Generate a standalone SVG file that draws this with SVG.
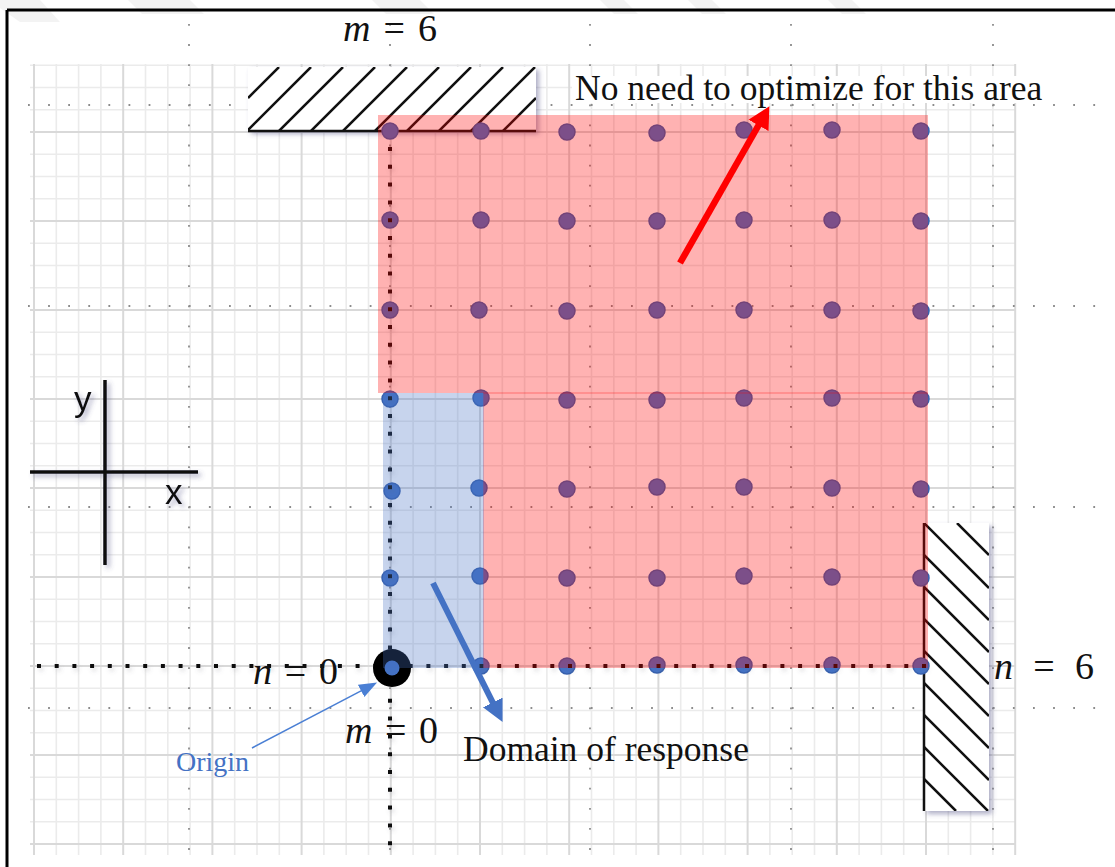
<svg xmlns="http://www.w3.org/2000/svg" width="1115" height="867" viewBox="0 0 1115 867">
<defs>
<style>
.minor{stroke:#ebebeb;stroke-width:1.6;fill:none}
.major{stroke:#d9d9d9;stroke-width:2;fill:none}
.gdot{stroke:#8c8c8c;stroke-width:1.8;stroke-dasharray:1.8 18.3;fill:none}
.bdot{stroke:#111;stroke-width:4;fill:none}
.hatch{stroke:#111;stroke-width:2.5;fill:none}
.dot{fill:#4472c4;stroke:#3760ad;stroke-width:1.5}
.math{font-family:"Liberation Serif",serif;font-size:38px;fill:#111}
.serif{font-family:"Liberation Serif",serif;font-size:35.5px;fill:#111}
.sans{font-family:"Liberation Sans",sans-serif;font-size:35px;fill:#111}
.wm{fill:#f3f3f3}
</style>
<filter id="sh" filterUnits="userSpaceOnUse" x="0" y="0" width="1115" height="867">
<feDropShadow dx="3" dy="3" stdDeviation="2.5" flood-color="#4a4a80" flood-opacity="0.45"/>
</filter>
<filter id="shs" filterUnits="userSpaceOnUse" x="0" y="0" width="1115" height="867">
<feDropShadow dx="2" dy="3" stdDeviation="2" flood-color="#606070" flood-opacity="0.25"/>
</filter>
<clipPath id="clipTop"><rect x="248" y="67" width="288" height="64"/></clipPath>
<clipPath id="clipRight"><rect x="924" y="523" width="65" height="288"/></clipPath>
<marker id="ahR" markerUnits="userSpaceOnUse" markerWidth="24" markerHeight="24" viewBox="0 0 24 24" refX="1" refY="12" orient="auto"><path d="M0,0.5 L22,12 L0,23.5z" fill="#ff0000"/></marker>
<marker id="ahB" markerUnits="userSpaceOnUse" markerWidth="24" markerHeight="24" viewBox="0 0 24 24" refX="1" refY="12" orient="auto"><path d="M0,1 L22,12 L0,23z" fill="#4472c4"/></marker>
<marker id="ahT" markerUnits="userSpaceOnUse" markerWidth="20" markerHeight="16" viewBox="0 0 20 16" refX="1" refY="8" orient="auto"><path d="M0,1 L18,8 L0,15z" fill="#4a7fd4"/></marker>
</defs>

<rect width="1115" height="867" fill="#ffffff"/>

<g id="watermark">
<polygon class="wm" points="0,0 40,0 60,22 20,22 0,8"/>
<polygon class="wm" points="128,0 190,0 204,14 142,14"/>
<polygon class="wm" points="372,0 420,0 434,14 386,14"/>
<polygon class="wm" points="600,0 624,0 638,14 614,14"/>
<polygon class="wm" points="688,0 712,0 726,14 702,14"/>
<polygon class="wm" points="828,0 852,0 866,14 842,14"/>
</g>

<g id="frame" stroke="#000" stroke-width="3" fill="none">
<path d="M7 10H1115M7 10V867"/>
</g>

<g id="grid">
<path class="minor" d="M56.3 64V855M78.6 64V855M100.9 64V855M145.5 64V855M167.8 64V855M190.1 64V855M234.7 64V855M257 64V855M279.3 64V855M323.9 64V855M346.2 64V855M368.5 64V855M413.1 64V855M435.4 64V855M457.7 64V855M502.3 64V855M524.6 64V855M546.9 64V855M591.5 64V855M613.8 64V855M636.1 64V855M680.7 64V855M703 64V855M725.3 64V855M769.9 64V855M792.2 64V855M814.5 64V855M859.1 64V855M881.4 64V855M903.7 64V855M948.3 64V855M970.6 64V855M992.9 64V855"/>
<path class="minor" d="M30 65.25H1016M30 87.5H1016M30 109.75H1016M30 154.25H1016M30 176.5H1016M30 198.75H1016M30 243.25H1016M30 265.5H1016M30 287.75H1016M30 332.25H1016M30 354.5H1016M30 376.75H1016M30 421.25H1016M30 443.5H1016M30 465.75H1016M30 510.25H1016M30 532.5H1016M30 554.75H1016M30 599.25H1016M30 621.5H1016M30 643.75H1016M30 688.25H1016M30 710.5H1016M30 732.75H1016M30 777.25H1016M30 799.5H1016M30 821.75H1016"/>
<path class="major" d="M34 64V855M123.2 64V855M212.4 64V855M301.6 64V855M390.8 64V855M480 64V855M569.2 64V855M658.4 64V855M747.6 64V855M836.8 64V855M926 64V855M1015.2 64V855"/>
<path class="major" d="M30 132H1016M30 221H1016M30 310H1016M30 399H1016M30 488H1016M30 577H1016M30 666H1016M30 755H1016M30 844H1016"/>
<path class="gdot" d="M189 24V853M390 24V853M590 24V853M791 24V853M993 24V853"/>
<path class="gdot" d="M28 105H1096M28 306H1096M28 507H1096M28 708H1096"/>
</g>

<g id="hatch-top">
<rect x="248" y="67" width="288" height="64" fill="#ffffff" filter="url(#sh)"/>
<g clip-path="url(#clipTop)">
<path class="hatch" d="M248 98L279 67M247 131L311 67M279 131L343 67M311 131L375 67M343 131L407 67M375 131L439 67M407 131L471 67M439 131L503 67M471 131L535 67M503 131L536 98"/>
</g>
<path d="M248 131H536" stroke="#111" stroke-width="2.5"/>
</g>

<g id="hatch-right">
<rect x="924" y="523" width="65" height="288" fill="#ffffff" filter="url(#sh)"/>
<g clip-path="url(#clipRight)">
<path class="hatch" d="M957 523L989 555M924 523L989 588M924 555L989 620M924 587L989 652M924 619L989 684M924 651L989 716M924 683L989 748M924 715L989 780M924 747L988 811M924 779L956 811"/>
</g>
<path d="M924 523V811" stroke="#111" stroke-width="2.5"/>
</g>

<g id="axes-icon" filter="url(#sh)">
<path d="M30 472H198M105 380V565" stroke="#111" stroke-width="3.5" fill="none"/>
<text class="sans" x="74" y="411">y</text>
<text class="sans" x="165" y="504">x</text>
</g>

<g id="points">
<circle class="dot" cx="390" cy="131" r="8"/><circle class="dot" cx="481" cy="131" r="8"/><circle class="dot" cx="567" cy="132" r="8"/><circle class="dot" cx="657" cy="133" r="8"/><circle class="dot" cx="744" cy="130" r="8"/><circle class="dot" cx="832" cy="130" r="8"/><circle class="dot" cx="921" cy="131" r="8"/>
<circle class="dot" cx="390" cy="220" r="8"/><circle class="dot" cx="481" cy="220" r="8"/><circle class="dot" cx="567" cy="221" r="8"/><circle class="dot" cx="657" cy="221" r="8"/><circle class="dot" cx="744" cy="220" r="8"/><circle class="dot" cx="832" cy="220" r="8"/><circle class="dot" cx="921" cy="221" r="8"/>
<circle class="dot" cx="390" cy="310" r="8"/><circle class="dot" cx="479" cy="310" r="8"/><circle class="dot" cx="567" cy="311" r="8"/><circle class="dot" cx="657" cy="310" r="8"/><circle class="dot" cx="744" cy="310" r="8"/><circle class="dot" cx="832" cy="310" r="8"/><circle class="dot" cx="921" cy="311" r="8"/>
<circle class="dot" cx="390" cy="399" r="8"/><circle class="dot" cx="481" cy="398" r="8"/><circle class="dot" cx="567" cy="400" r="8"/><circle class="dot" cx="657" cy="400" r="8"/><circle class="dot" cx="744" cy="398" r="8"/><circle class="dot" cx="832" cy="398" r="8"/><circle class="dot" cx="921" cy="399" r="8"/>
<circle class="dot" cx="392" cy="491" r="8"/><circle class="dot" cx="479" cy="488" r="8"/><circle class="dot" cx="567" cy="489" r="8"/><circle class="dot" cx="657" cy="487" r="8"/><circle class="dot" cx="744" cy="487" r="8"/><circle class="dot" cx="832" cy="488" r="8"/><circle class="dot" cx="921" cy="489" r="8"/>
<circle class="dot" cx="390" cy="578" r="8"/><circle class="dot" cx="480" cy="576" r="8"/><circle class="dot" cx="567" cy="578" r="8"/><circle class="dot" cx="657" cy="578" r="8"/><circle class="dot" cx="744" cy="576" r="8"/><circle class="dot" cx="832" cy="577" r="8"/><circle class="dot" cx="921" cy="578" r="8"/>
<circle class="dot" cx="481" cy="666" r="8"/><circle class="dot" cx="567" cy="666" r="8"/><circle class="dot" cx="657" cy="665" r="8"/><circle class="dot" cx="744" cy="665" r="8"/><circle class="dot" cx="832" cy="665" r="8"/><circle class="dot" cx="921" cy="666" r="8"/>
</g>

<g id="axis-lines" filter="url(#shs)">
<path class="bdot" d="M390 147V852" stroke-dasharray="4 13.8"/>
<path class="bdot" d="M37 666H930" stroke-dasharray="4 13.7"/>
</g>

<g id="origin">
<circle cx="392" cy="668" r="19" fill="#000"/>
<circle cx="392" cy="668" r="7.5" fill="#4472c4"/>
</g>

<g id="regions">
<rect x="378" y="115" width="550" height="278" fill="#ff0000" fill-opacity="0.3"/>
<rect x="483" y="393" width="445" height="275" fill="#ff0000" fill-opacity="0.3"/>
<path d="M483 393H928" stroke="#ff0000" stroke-opacity="0.25" stroke-width="1.5"/>
<rect x="383" y="393" width="101" height="275" fill="#4472c4" fill-opacity="0.3"/>
</g>

<rect x="572" y="76" width="476" height="27" fill="#ffffff"/>

<g id="connectors">
<line x1="680" y1="263" x2="759" y2="124.5" stroke="#ff0000" stroke-width="6.5" marker-end="url(#ahR)"/>
<line x1="433" y1="583" x2="493.2" y2="703.3" stroke="#4472c4" stroke-width="6" marker-end="url(#ahB)"/>
<line x1="252" y1="748" x2="362" y2="690.4" stroke="#4a7fd4" stroke-width="1.5" marker-end="url(#ahT)"/>
</g>

<g id="labels">
<text class="math" x="343" y="41" textLength="94" lengthAdjust="spacing"><tspan font-style="italic">m</tspan> = 6</text>
<text class="serif" x="575" y="100">No need to optimize for this area</text>
<text class="math" x="253" y="684" textLength="85" lengthAdjust="spacing"><tspan font-style="italic">n</tspan> = 0</text>
<text class="math" x="345" y="743" textLength="93" lengthAdjust="spacing"><tspan font-style="italic">m</tspan> = 0</text>
<text class="math" x="994" y="679" textLength="100" lengthAdjust="spacing"><tspan font-style="italic">n</tspan> = 6</text>
<text class="serif" x="463" y="761">Domain of response</text>
<text x="176" y="771" font-family="Liberation Serif, serif" font-size="28" fill="#4472c4">Origin</text>
</g>
</svg>
